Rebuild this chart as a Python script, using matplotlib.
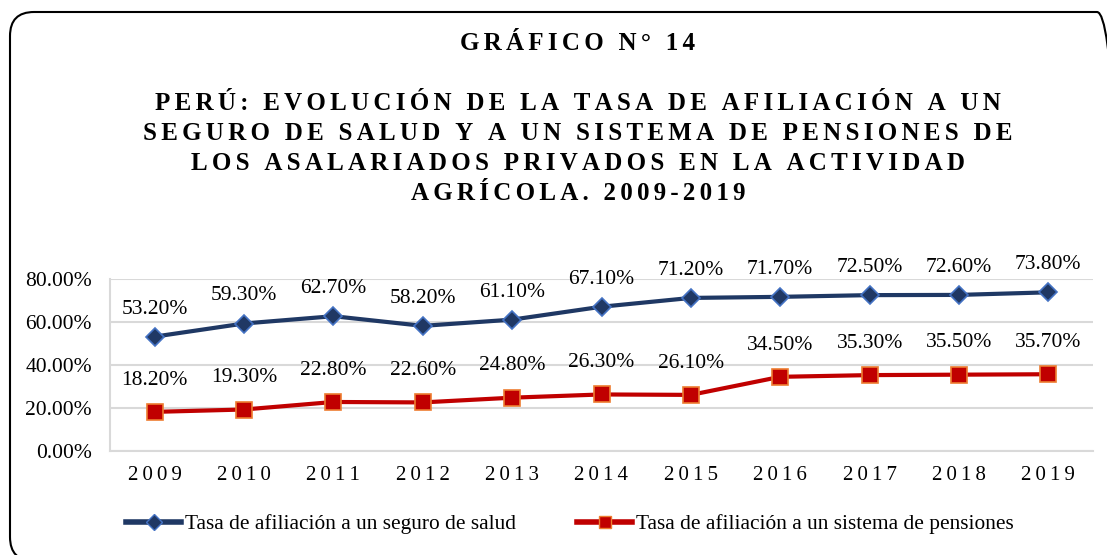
import matplotlib
matplotlib.use("Agg")
import matplotlib.pyplot as plt
from matplotlib.patches import FancyBboxPatch
from matplotlib.lines import Line2D
from matplotlib.transforms import IdentityTransform

plt.rcParams['font.family'] = ['Liberation Serif', 'DejaVu Serif']

years = ['2009', '2010', '2011', '2012', '2013', '2014', '2015', '2016', '2017', '2018', '2019']
salud = [53.2, 59.3, 62.7, 58.2, 61.1, 67.1, 71.2, 71.7, 72.5, 72.6, 73.8]
pensiones = [18.2, 19.3, 22.8, 22.6, 24.8, 26.3, 26.1, 34.5, 35.3, 35.5, 35.7]
serie_salud = 'Tasa de afiliación a un seguro de salud'
serie_pensiones = 'Tasa de afiliación a un sistema de pensiones'

titulo = 'GRÁFICO N° 14'
subtitulo = ['PERÚ: EVOLUCIÓN DE LA TASA DE AFILIACIÓN A UN',
             'SEGURO DE SALUD Y A UN SISTEMA DE PENSIONES DE',
             'LOS ASALARIADOS PRIVADOS EN LA ACTIVIDAD',
             'AGRÍCOLA. 2009-2019']


def espaciar(s, sep='\u200a\u200a'):
    return sep.join(s)


W, H = 1107, 555
fig = plt.figure(figsize=(W / 100, H / 100), dpi=100)

# marco redondeado en pixeles (se sale por la derecha y por abajo)
marco = FancyBboxPatch((10, H - 561), 1111, 549,
                       boxstyle='round,pad=0,rounding_size=24',
                       transform=IdentityTransform(), fill=False,
                       edgecolor='black', linewidth=1.5)
fig.patches.append(marco)

xc = 578 / W
fig.text(xc, 1 - 43 / H, espaciar(titulo), ha='center', va='center',
         fontsize=18, fontweight='bold')
for i, linea in enumerate(subtitulo):
    fig.text(xc, 1 - (104 + 30 * i) / H, espaciar(linea), ha='center', va='center',
             fontsize=18, fontweight='bold')

ax = fig.add_axes([110 / W, 1 - 451 / H, (1093 - 110) / W, (451 - 279) / H])
x = list(range(len(years)))

ax.plot(x, salud, color='#1F3864', linewidth=3, marker='D', markersize=9,
        markerfacecolor='#203864', markeredgecolor='#4472C4', markeredgewidth=1.2, zorder=3)
ax.plot(x, pensiones, color='#C00000', linewidth=3, marker='s', markersize=11,
        markerfacecolor='#C00000', markeredgecolor='#ED7D31', markeredgewidth=1.2, zorder=3)

for xi, v in zip(x, salud):
    ax.annotate(f'{v:.2f}%', (xi, v), xytext=(0, 13), textcoords='offset points',
                ha='center', va='bottom', fontsize=15.5)
for xi, v in zip(x, pensiones):
    ax.annotate(f'{v:.2f}%', (xi, v), xytext=(0, 16), textcoords='offset points',
                ha='center', va='bottom', fontsize=15.5)

ax.set_xlim(-0.5, len(years) - 0.5)
ax.set_ylim(0, 80)
ax.set_yticks([0, 20, 40, 60, 80])
ax.set_yticklabels([f'{t:.2f}%' for t in [0, 20, 40, 60, 80]], fontsize=15.5)
ax.set_xticks(x)
ax.set_xticklabels([espaciar(y, '\u2009') for y in years], fontsize=15)
ax.tick_params(length=0)
ax.tick_params(axis='x', pad=11)
ax.tick_params(axis='y', pad=13)
ax.grid(axis='y', color='#D9D9D9', linewidth=1.5)
ax.set_axisbelow(True)
for lado in ['top', 'right']:
    ax.spines[lado].set_visible(False)
for lado in ['left', 'bottom']:
    ax.spines[lado].set_color('#D9D9D9')
    ax.spines[lado].set_linewidth(1.5)

handles = [
    Line2D([], [], color='#1F3864', linewidth=4, marker='D', markersize=8,
           markerfacecolor='#203864', markeredgecolor='#4472C4'),
    Line2D([], [], color='#C00000', linewidth=4, marker='s', markersize=9,
           markerfacecolor='#C00000', markeredgecolor='#ED7D31'),
]
fig.legend(handles, [serie_salud, serie_pensiones], loc='center', ncol=2,
           bbox_to_anchor=(570 / W, 1 - 524 / H), frameon=False, fontsize=15.4,
           handlelength=2.57, handletextpad=0.19, columnspacing=2.85,
           borderpad=0, borderaxespad=0)

fig.savefig('out.png', dpi=100)
